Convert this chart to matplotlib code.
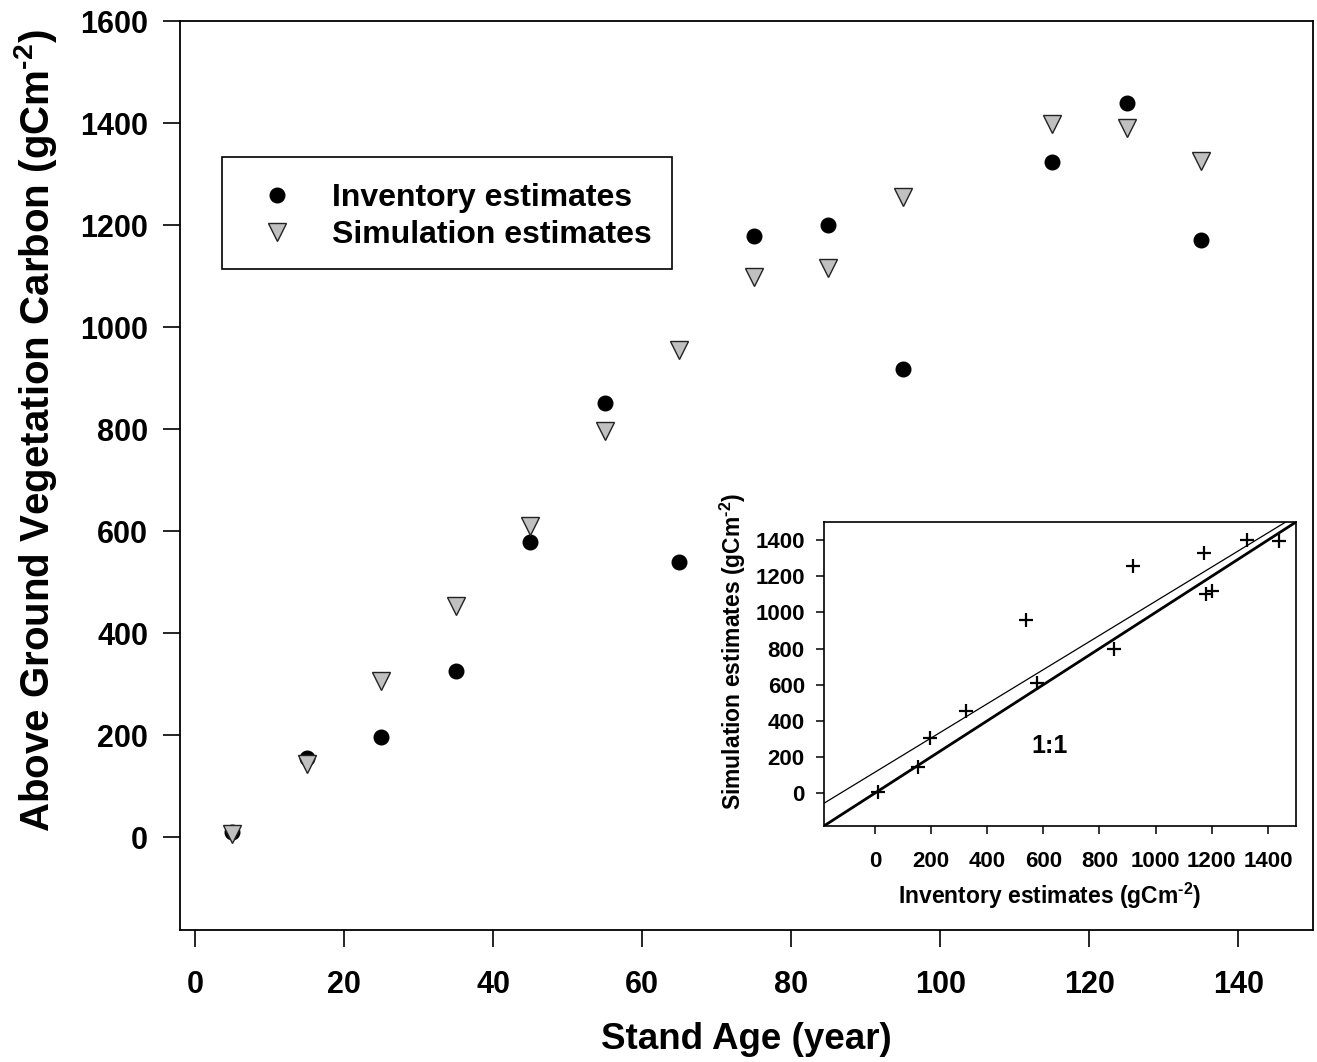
import numpy as np
import matplotlib
matplotlib.use("Agg")
import matplotlib.pyplot as plt
from matplotlib.patches import Rectangle

plt.rcParams['font.family'] = 'Liberation Sans'
plt.rcParams['font.weight'] = 'bold'
plt.rcParams['axes.labelweight'] = 'bold'
plt.rcParams['mathtext.fontset'] = 'custom'
plt.rcParams['mathtext.rm'] = 'Liberation Sans:bold'
plt.rcParams['mathtext.default'] = 'rm'

# ---- data ----
stand_age = [5, 15, 25, 35, 45, 55, 65, 75, 85, 95, 115, 125, 135]
inventory = [10, 155, 197, 326, 579, 852, 540, 1179, 1201, 918, 1324, 1440, 1172]
simulation = [7, 144, 306, 453, 610, 797, 956, 1099, 1117, 1256, 1399, 1392, 1326]

x_ticks = [0, 20, 40, 60, 80, 100, 120, 140]
y_ticks = [0, 200, 400, 600, 800, 1000, 1200, 1400, 1600]
inset_ticks = [0, 200, 400, 600, 800, 1000, 1200, 1400]

unit = r'(gCm$^{\text{-2}}$)'

fig = plt.figure(figsize=(13.17, 10.62), dpi=100)

# ---- main panel ----
ax = fig.add_axes([0.13667, 0.12429, 0.8603, 0.8555])
ax.plot(stand_age, inventory, 'o', color='black', markersize=10.5,
        label='Inventory estimates', zorder=3)
ax.plot(stand_age, simulation, 'v', markerfacecolor='#c0c0c0',
        markeredgecolor='#222222', markeredgewidth=1.0, markersize=13,
        label='Simulation estimates', zorder=4)

ax.set_xlim(-2, 150)
ax.set_ylim(-182, 1600)
ax.set_xticks(x_ticks)
ax.set_yticks(y_ticks)
ax.tick_params(axis='both', direction='out', length=12, width=1.2, labelsize=22)
ax.tick_params(axis='x', pad=17)
ax.tick_params(axis='y', pad=11)
for s in ax.spines.values():
    s.set_linewidth(1.3)

ax.set_xlabel('Stand Age (year)', fontsize=26.5, fontweight='bold')
ax.set_ylabel('Above Ground Vegetation Carbon ' + unit, fontsize=29,
              fontweight='bold')
ax.xaxis.set_label_coords(0.5, -0.101)
ax.yaxis.set_label_coords(-0.107, 0.55)

leg = ax.legend(loc='upper left', bbox_to_anchor=(0.0712, 0.8217),
                frameon=False, fontsize=23, borderpad=0, borderaxespad=0,
                handlelength=1.0, handletextpad=1.22, labelspacing=0.2)
ax.add_patch(Rectangle((0.0368, 0.7272), 0.3972, 0.1233, transform=ax.transAxes,
                       fill=False, lw=1.2, edgecolor='black', zorder=5))

# ---- inset: simulation vs inventory ----
axi = fig.add_axes([0.6259, 0.2225, 0.3582, 0.286])
axi.plot(inventory, simulation, '+', color='black', markersize=10,
         markeredgewidth=1.6, zorder=3)
lim = (-180, 1500)
axi.plot(lim, lim, color='black', lw=2.0)
slope, icpt = np.polyfit(inventory, simulation, 1)
axi.plot(lim, [slope * v + icpt for v in lim], color='black', lw=0.9)
axi.set_xlim(*lim)
axi.set_ylim(*lim)
axi.set_xticks(inset_ticks)
axi.set_yticks(inset_ticks)
axi.tick_params(axis='both', direction='out', length=6, width=1.1, labelsize=16)
axi.tick_params(axis='x', pad=12)
axi.tick_params(axis='y', pad=8)
for s in axi.spines.values():
    s.set_linewidth(1.2)
axi.text(623, 261, '1:1', fontsize=18, ha='center', va='center')
axi.set_xlabel('Inventory estimates ' + unit, fontsize=16.5, fontweight='bold')
axi.set_ylabel('Simulation estimates ' + unit, fontsize=16.5, fontweight='bold')
axi.xaxis.set_label_coords(0.478, -0.181)
axi.yaxis.set_label_coords(-0.162, 0.575)

fig.savefig('out.png', dpi=100)
